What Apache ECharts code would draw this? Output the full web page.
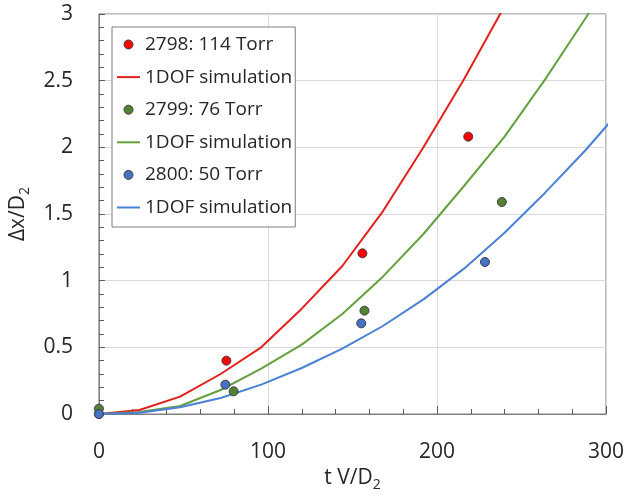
<!DOCTYPE html>
<html>
<head>
<meta charset="utf-8">
<script src="https://cdn.jsdelivr.net/npm/echarts@6/dist/echarts.min.js"></script>
<style>html,body{margin:0;padding:0;background:#fff}#c{width:627px;height:498px}</style>
</head>
<body>
<div id="c"></div>
<script>
// ---- data ----
var xTicks = [0, 100, 200, 300];
var yTicks = [0, 0.5, 1, 1.5, 2, 2.5, 3];

var exp2798 = [[0, 0], [75.4, 0.40], [155.9, 1.205], [218.5, 2.08]];
var exp2799 = [[0, 0.04], [79.7, 0.17], [157.1, 0.775], [238.4, 1.59]];
var exp2800 = [[0, 0], [74.8, 0.22], [155.2, 0.68], [228.4, 1.14]];

var simT = [0, 24, 48, 72, 96, 120, 144, 168, 192, 216, 240, 264, 288, 312];
var sim2798 = [0, 0.03, 0.13, 0.30, 0.50, 0.79, 1.11, 1.52, 2.00, 2.51, 3.06];
var sim2799 = [0, 0.015, 0.06, 0.18, 0.34, 0.52, 0.75, 1.03, 1.35, 1.71, 2.08, 2.51, 2.97, 3.47];
var sim2800 = [0, 0.01, 0.05, 0.12, 0.22, 0.345, 0.49, 0.66, 0.86, 1.09, 1.36, 1.66, 1.98, 2.33];

var names = ['2798: 114 Torr', '1DOF simulation', '2799: 76 Torr', '1DOF simulation ', '2800: 50 Torr', '1DOF simulation  '];

var FONT = 'Open Sans';
var C_RED = '#ff0000', C_RED_L = '#e3201b';
var C_GRN = '#548235', C_GRN_L = '#65a03f';
var C_BLU = '#4472c4', C_BLU_L = '#4a80d6';
var LINE_ICON = 'path://M0,0L23,0L23,2L0,2Z';

function pair(t, v) { var o = []; for (var i = 0; i < v.length; i++) o.push([t[i], v[i]]); return o; }

var chart = echarts.init(document.getElementById('c'));
var scatterStyle = function (c) { return { color: c, borderColor: '#404040', borderWidth: 1, opacity: 1 }; };

chart.setOption({
  animation: false,
  backgroundColor: '#fff',
  grid: { left: 97, right: 21, top: 14, bottom: 84, show: true, borderColor: '#7f7f7f', borderWidth: 1, backgroundColor: 'transparent' },
  legend: {
    orient: 'vertical', left: 112, top: 27,
    padding: [8, 3, 10, 5], itemGap: 13.6, itemWidth: 23, itemHeight: 9,
    backgroundColor: '#fff', borderColor: '#7f7f7f', borderWidth: 1,
    textStyle: { fontSize: 19, fontFamily: FONT, color: '#262626' },
    formatter: function (n) { return n.replace(/\s+$/, ''); },
    data: [
      { name: names[0], icon: 'circle', itemStyle: scatterStyle(C_RED) },
      { name: names[1], icon: LINE_ICON, itemStyle: { color: C_RED_L, borderWidth: 0 } },
      { name: names[2], icon: 'circle', itemStyle: scatterStyle(C_GRN) },
      { name: names[3], icon: LINE_ICON, itemStyle: { color: C_GRN_L, borderWidth: 0 } },
      { name: names[4], icon: 'circle', itemStyle: scatterStyle(C_BLU) },
      { name: names[5], icon: LINE_ICON, itemStyle: { color: C_BLU_L, borderWidth: 0 } }
    ]
  },
  xAxis: {
    type: 'value', min: xTicks[0], max: xTicks[xTicks.length - 1], interval: 100,
    name: '{n|t V/D}{s|2}', nameLocation: 'middle', nameGap: 38,
    nameTextStyle: { rich: { n: { fontSize: 21, fontFamily: FONT, color: '#262626' }, s: { fontSize: 14, fontFamily: FONT, color: '#262626', padding: [14, 0, 0, 0] } } },
    axisLine: { show: true, lineStyle: { color: '#7f7f7f', width: 1 } },
    axisTick: { show: true, inside: true, length: 8, lineStyle: { color: '#595959' } },
    minorTick: { show: true, splitNumber: 5, length: 5, lineStyle: { color: '#595959' } },
    splitLine: { show: true, lineStyle: { color: '#d9d9d9', width: 1 } },
    axisLabel: { fontSize: 21, fontFamily: FONT, color: '#262626', margin: 28 }
  },
  yAxis: {
    type: 'value', min: yTicks[0], max: yTicks[yTicks.length - 1], interval: 0.5,
    name: '{n|Δx/D}{s|2}', nameLocation: 'middle', nameGap: 51, nameRotate: 90,
    nameTextStyle: { rich: { n: { fontSize: 21, fontFamily: FONT, color: '#262626' }, s: { fontSize: 14, fontFamily: FONT, color: '#262626', padding: [14, 0, 0, 0] } } },
    axisLine: { show: true, lineStyle: { color: '#7f7f7f', width: 1 } },
    axisTick: { show: true, inside: true, length: 6, lineStyle: { color: '#595959' } },
    minorTick: { show: true, splitNumber: 5, length: 5, lineStyle: { color: '#595959' } },
    splitLine: { show: true, lineStyle: { color: '#d9d9d9', width: 1 } },
    axisLabel: { fontSize: 21, fontFamily: FONT, color: '#262626', margin: 26 }
  },
  series: [
    { name: names[1], type: 'line', data: pair(simT, sim2798), symbol: 'none', clip: true, lineStyle: { color: C_RED_L, width: 2 }, itemStyle: { color: C_RED_L }, z: 2 },
    { name: names[3], type: 'line', data: pair(simT, sim2799), symbol: 'none', clip: true, lineStyle: { color: C_GRN_L, width: 2 }, itemStyle: { color: C_GRN_L }, z: 2 },
    { name: names[5], type: 'line', data: pair(simT, sim2800), symbol: 'none', clip: true, lineStyle: { color: C_BLU_L, width: 2 }, itemStyle: { color: C_BLU_L }, z: 2 },
    { name: names[0], type: 'scatter', data: exp2798, symbolSize: 9, itemStyle: scatterStyle(C_RED), z: 3 },
    { name: names[2], type: 'scatter', data: exp2799, symbolSize: 9, itemStyle: scatterStyle(C_GRN), z: 3 },
    { name: names[4], type: 'scatter', data: exp2800, symbolSize: 9, itemStyle: scatterStyle(C_BLU), z: 3 }
  ]
});
</script>
</body>
</html>
